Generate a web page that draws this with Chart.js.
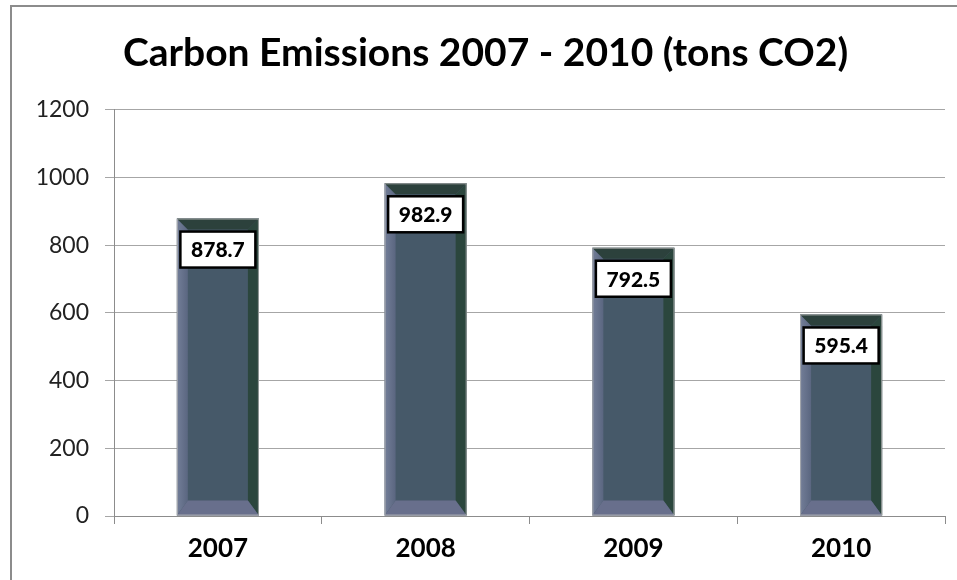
<!DOCTYPE html>
<html>
<head>
    <meta charset="utf-8">
    <title>Carbon Emissions</title>
    <script src="https://cdn.jsdelivr.net/npm/chart.js@4"></script>
    <style>
        html, body { margin: 0; padding: 0; background: #fff; }
        #wrap { width: 957px; height: 580px; }
    </style>
</head>
<body>
<div id="wrap"><canvas id="emissionChart" width="957" height="580"></canvas></div>
<script>
    // 데이터
    const years = ['2007', '2008', '2009', '2010'];
    const emissions = [878.7, 982.9, 792.5, 595.4];
    const yTicks = [0, 200, 400, 600, 800, 1000, 1200];

    // 차트 테두리 (왼쪽, 위쪽만 보임)
    const frameBorder = {
        id: 'frameBorder',
        beforeDraw(chart) {
            const ctx = chart.ctx;
            ctx.save();
            ctx.fillStyle = '#fff';
            ctx.fillRect(0, 0, chart.width, chart.height);
            ctx.strokeStyle = '#8c8c8c';
            ctx.lineWidth = 2;
            ctx.beginPath();
            ctx.moveTo(11, chart.height);
            ctx.lineTo(11, 6);
            ctx.lineTo(chart.width, 6);
            ctx.stroke();
            ctx.restore();
        }
    };

    // 베벨 효과 + 값 라벨
    const bevelBars = {
        id: 'bevelBars',
        afterDatasetsDraw(chart) {
            const ctx = chart.ctx;
            const meta = chart.getDatasetMeta(0);
            ctx.save();
            meta.data.forEach((bar, i) => {
                const l = bar.x - bar.width / 2, r = bar.x + bar.width / 2;
                const t = bar.y, b = bar.base;
                const dt = 11, db = 15, ds = 11;

                const poly = (pts, color) => {
                    ctx.fillStyle = color;
                    ctx.beginPath();
                    ctx.moveTo(pts[0][0], pts[0][1]);
                    pts.slice(1).forEach(p => ctx.lineTo(p[0], p[1]));
                    ctx.closePath();
                    ctx.fill();
                };
                // 왼쪽
                const lg = ctx.createLinearGradient(l, 0, l + ds, 0);
                lg.addColorStop(0, '#737e98');
                lg.addColorStop(1, '#5a6680');
                poly([[l, t], [l + ds, t + dt], [l + ds, b - db], [l, b]], lg);
                // 오른쪽
                poly([[r, t], [r, b], [r - ds, b - db], [r - ds, t + dt]], '#2b463d');
                // 아래
                poly([[l, b], [r, b], [r - ds, b - db], [l + ds, b - db]], '#686f8c');
                // 위
                poly([[l, t], [r, t], [r - ds, t + dt], [l + ds, t + dt]], '#2c413c');

                ctx.strokeStyle = 'rgba(180,180,180,0.8)';
                ctx.lineWidth = 1;
                ctx.strokeRect(l + 0.5, t + 0.5, r - l - 1, b - t - 1);

                // 라벨 박스
                const bw = 75, bh = 36;
                const bx = bar.x - bw / 2, by = t + 13;
                ctx.fillStyle = '#fff';
                ctx.fillRect(bx, by, bw, bh);
                ctx.strokeStyle = '#000';
                ctx.lineWidth = 2.5;
                ctx.strokeRect(bx, by, bw, bh);
                ctx.fillStyle = '#000';
                ctx.font = '900 21px Lato';
                ctx.textAlign = 'center';
                ctx.textBaseline = 'middle';
                ctx.fillText(emissions[i].toFixed(1), bar.x, by + bh / 2 + 1);
            });
            ctx.restore();
        }
    };

    const ctx = document.getElementById('emissionChart').getContext('2d');
    new Chart(ctx, {
        type: 'bar',
        data: {
            labels: years,
            datasets: [{
                data: emissions,
                backgroundColor: '#465969',
                borderWidth: 0,
                barPercentage: 0.395,
                categoryPercentage: 1
            }]
        },
        options: {
            responsive: false,
            animation: false,
            layout: { padding: { left: 26, right: 12, top: 0, bottom: 14 } },
            plugins: {
                legend: { display: false },
                tooltip: { enabled: false },
                title: {
                    display: true,
                    text: 'Carbon Emissions 2007 - 2010 (tons CO2)',
                    color: '#000',
                    font: { family: 'Lato', size: 39, weight: 'bold', lineHeight: 1.2 },
                    padding: { top: 30, bottom: 33 }
                }
            },
            scales: {
                x: {
                    offset: true,
                    grid: { offset: true, drawOnChartArea: false, color: '#8c8c8c', tickLength: 8 },
                    border: { color: '#8c8c8c' },
                    ticks: {
                        color: '#000',
                        padding: 9,
                        font: { family: 'Lato', size: 26, weight: 'bold' }
                    },
                    afterFit: s => { s.height = 50; }
                },
                y: {
                    min: 0,
                    max: 1200,
                    afterBuildTicks: s => { s.ticks = yTicks.map(v => ({ value: v })); },
                    grid: { color: '#a6a6a6', tickLength: 9 },
                    border: { color: '#8c8c8c' },
                    ticks: {
                        color: '#222',
                        padding: 16,
                        font: { family: 'Lato', size: 23 },
                        callback: v => String(v)
                    },
                    afterFit: s => { s.width = 88; }
                }
            }
        },
        plugins: [frameBorder, bevelBars]
    });
</script>
</body>
</html>
